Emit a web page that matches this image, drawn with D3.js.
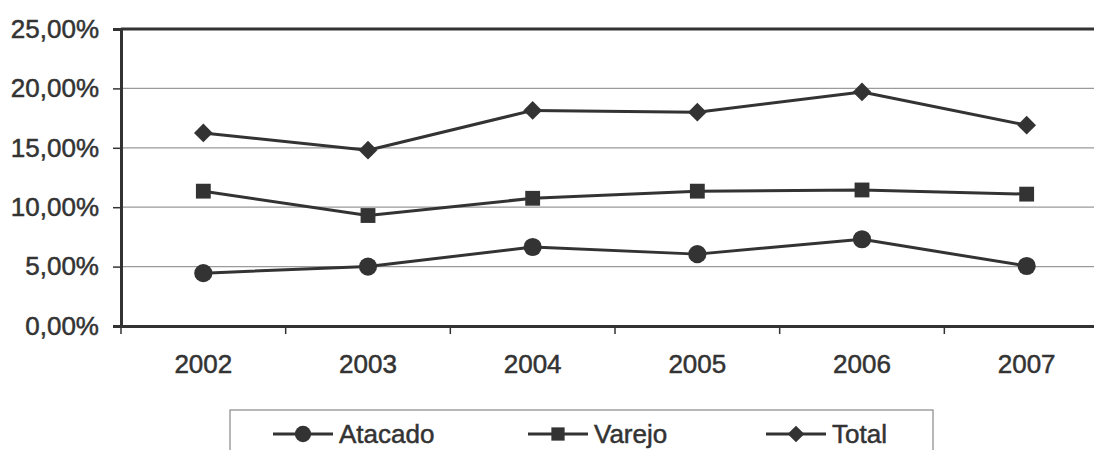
<!DOCTYPE html>
<html><head><meta charset="utf-8">
<script src="https://cdn.jsdelivr.net/npm/d3@7"></script>
<style>
html,body{margin:0;padding:0;background:#fff;}
svg{display:block;}
text{font-family:"Liberation Sans",Arial,sans-serif;fill:#333;stroke:#333;stroke-width:0.5px;}
</style></head>
<body>
<svg id="chart" width="1094" height="450"></svg>
<script>
const years = ["2002","2003","2004","2005","2006","2007"];
const atacado = [4.45, 5.0, 6.65, 6.05, 7.3, 5.05];
const varejo = [11.35, 9.3, 10.75, 11.35, 11.45, 11.1];
const total = [16.25, 14.8, 18.15, 18.0, 19.7, 16.9];
const yTicks = [0, 5, 10, 15, 20, 25];
const seriesNames = ["Atacado", "Varejo", "Total"];
const seriesSymbols = ["circle", "square", "diamond"];

(function(){
const svg = d3.select("#chart");
const mLeft = 121, mTop = 29, mBottom = 326, mRight = 1109;
const x = d3.scaleBand().domain(years).range([mLeft, mRight]).padding(0);
const y = d3.scaleLinear().domain([0, 25]).range([mBottom, mTop]);
const fmt = v => d3.format(".2f")(v).replace(".", ",") + "%";
const ink = "#333";
const fam = "Liberation Sans, Arial, sans-serif";

// gridlines
svg.append("g").selectAll("line").data(yTicks.filter(t => t > 0 && t < 25)).join("line")
  .attr("x1", mLeft).attr("x2", mRight)
  .attr("y1", d => y(d)).attr("y2", d => y(d))
  .attr("stroke", "#9a9a9a").attr("stroke-width", 1.2);

// top border
svg.append("line").attr("x1", mLeft).attr("x2", mRight).attr("y1", y(25)).attr("y2", y(25))
  .attr("stroke", ink).attr("stroke-width", 3);

// y axis
const yAxis = svg.append("g").attr("transform", `translate(${mLeft},0)`)
  .call(d3.axisLeft(y).tickValues(yTicks).tickFormat(fmt).tickSize(8).tickPadding(14));
yAxis.select(".domain").attr("stroke", ink).attr("stroke-width", 3);
yAxis.selectAll(".tick line").attr("stroke", ink).attr("stroke-width", 1.5);
yAxis.selectAll("text").attr("font-size", 26).attr("fill", ink).attr("font-family", fam);

// x axis
const xAxis = svg.append("g").attr("transform", `translate(0,${mBottom})`)
  .call(d3.axisBottom(x).tickSize(0).tickPadding(29));
xAxis.select(".domain").attr("stroke", ink).attr("stroke-width", 3);
xAxis.selectAll("text").attr("font-size", 26).attr("fill", ink).attr("font-family", fam);
// ticks at band boundaries
const bounds = years.map(d => x(d)).concat([mRight]);
svg.append("g").selectAll("line").data(bounds).join("line")
  .attr("x1", d => d).attr("x2", d => d).attr("y1", mBottom).attr("y2", mBottom + 8)
  .attr("stroke", ink).attr("stroke-width", 1.5);

const cx = d => x(d) + x.bandwidth() / 2;
const symTypes = {circle: d3.symbolCircle, square: d3.symbolSquare, diamond: d3.symbolSquare};
const symRot = {circle: 0, square: 0, diamond: 45};
const symSizes = {circle: 260, square: 220, diamond: 175};
const data = [atacado, varejo, total];

data.forEach((vals, i) => {
  const pts = years.map((yr, j) => [cx(yr), y(vals[j])]);
  svg.append("path").attr("d", d3.line()(pts))
    .attr("fill", "none").attr("stroke", ink).attr("stroke-width", 3).attr("stroke-linejoin", "round");
  const s = seriesSymbols[i];
  const sym = d3.symbol().type(symTypes[s]).size(symSizes[s]);
  svg.append("g").selectAll("path").data(pts).join("path")
    .attr("transform", p => `translate(${p[0]},${p[1]}) rotate(${symRot[s]})`)
    .attr("d", sym).attr("fill", ink);
});

// legend
svg.append("rect").attr("x", 230).attr("y", 410).attr("width", 703).attr("height", 60)
  .attr("fill", "#fff").attr("stroke", "#888").attr("stroke-width", 1.2);
const legX = [273, 528, 766];
const legY = 434;
seriesNames.forEach((name, i) => {
  const s = seriesSymbols[i];
  const g = svg.append("g").attr("transform", `translate(${legX[i]},${legY})`);
  g.append("line").attr("x1", 0).attr("x2", 60).attr("y1", 0).attr("y2", 0)
    .attr("stroke", ink).attr("stroke-width", 3);
  g.append("path").attr("transform", `translate(30,0) rotate(${symRot[s]})`)
    .attr("d", d3.symbol().type(symTypes[s]).size(symSizes[s] * 0.8)())
    .attr("fill", ink);
  g.append("text").attr("x", 66).attr("y", 0).attr("dy", "0.35em")
    .attr("font-size", 26).attr("fill", ink).text(name);
});
})();
</script>
</body></html>
